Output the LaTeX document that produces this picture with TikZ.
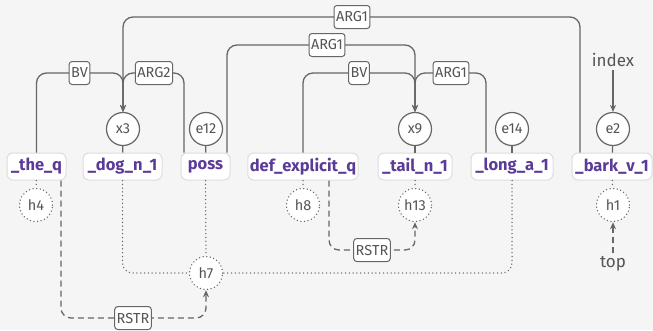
\documentclass[tikz,border=0pt]{standalone}
\usepackage{fontspec}
\setmainfont{Fira Sans}
\usetikzlibrary{arrows.meta}
\definecolor{bgc}{HTML}{F5F5F5}
\definecolor{lnc}{HTML}{666666}
\definecolor{predc}{HTML}{5B3A98}
\definecolor{bxc}{HTML}{DDDDDD}
\definecolor{txc}{HTML}{555555}
\begin{document}
\begin{tikzpicture}[x=1pt,y=-1pt,
  predbox/.style={draw=bxc, line width=1pt, fill=white, rounded corners=6pt, text=predc,
    font=\bfseries\fontsize{16.5}{17}\selectfont, minimum height=27pt, inner xsep=2pt},
  var/.style={circle, draw=lnc, line width=1.2pt, fill=white, minimum size=33pt, inner sep=0pt,
    text=txc, font=\fontsize{14.5}{15}\selectfont},
  hvar/.style={var, line cap=round, dash pattern=on 0pt off 3.6pt, line width=1.5pt},
  lab/.style={draw=lnc, line width=1pt, fill=white, rounded corners=3pt, inner xsep=2pt,
    minimum height=23pt, text=txc, font=\fontsize{14.5}{15}\selectfont},
  free/.style={text=txc, font=\fontsize{17}{18}\selectfont},
  edge/.style={draw=lnc, line width=1.3pt, rounded corners=10pt},
  arr/.style={-{Stealth[length=7pt,width=6pt]}},
  dotl/.style={draw=lnc, line width=1.5pt, line cap=round, dash pattern=on 0pt off 3.8pt, rounded corners=10pt},
  dashl/.style={draw=lnc, line width=1.3pt, dash pattern=on 6pt off 4pt, rounded corners=10pt}
]
\fill[bgc] (0,0) rectangle (653,330);
\useasboundingbox (0,0) rectangle (653,330);

% predicate boxes
\node[predbox, minimum width=59pt] (the) at (36.5,166.5) {\_the\_q};
\node[predbox, minimum width=79pt] (dog) at (122.5,166.5) {\_dog\_n\_1};
\node[predbox, minimum width=49pt] (poss) at (205.5,166.5) {poss};
\node[predbox, minimum width=108pt] (def) at (303,166.5) {def\_explicit\_q};
\node[predbox, minimum width=74pt] (tail) at (415,166.5) {\_tail\_n\_1};
\node[predbox, minimum width=82pt] (long) at (512,166.5) {\_long\_a\_1};
\node[predbox, minimum width=80pt] (bark) at (612,166.5) {\_bark\_v\_1};

% variables
\node[var] (x3) at (123,129) {x3};
\node[var] (e12) at (206,129) {e12};
\node[var] (x9) at (415,129) {x9};
\node[var] (e14) at (512,129) {e14};
\node[var] (e2) at (613,129) {e2};

\node[hvar] (h4) at (36,205) {h4};
\node[hvar] (h8) at (303,205) {h8};
\node[hvar] (h13) at (415,205) {h13};
\node[hvar] (h1) at (613,205) {h1};
\node[hvar] (h7) at (206,273) {h7};

\node[free] (index) at (613,60) {index};
\node[free] (top) at (613,264) {top};

% variable to predicate
\draw[edge] (x3) -- (dog);
\draw[edge] (e12) -- (poss);
\draw[edge] (x9) -- (tail);
\draw[edge] (e14) -- (long);
\draw[edge] (e2) -- (bark);

% argument edges
\draw[edge, arr] ([xshift=-32pt]bark.north) |- (x3 |- 0,17) -- (x3.north);
\draw[edge, arr] ([xshift=21.5pt]poss.north) |- (x9 |- 0,45) -- (x9.north);
\draw[edge, arr] (the.north) |- (x3 |- 0,73) -- (x3.north);
\draw[edge, arr] ([xshift=-21.5pt]poss.north) |- (x3 |- 0,73) -- (x3.north);
\draw[edge, arr] (def.north) |- (x9 |- 0,73) -- (x9.north);
\draw[edge, arr] ([xshift=-26pt]long.north) |- (x9 |- 0,73) -- (x9.north);
\draw[edge, arr] (index) -- (e2);

\node[lab] (l1) at (352,17) {ARG1};
\node[lab] (l2) at (327,45) {ARG1};
\node[lab] (l3) at (79.5,73) {BV};
\node[lab] (l4) at (154,73) {ARG2};
\node[lab] (l5) at (359,73) {BV};
\node[lab] (l6) at (451,73) {ARG1};

% handles
\draw[dotl] (the) -- (h4);
\draw[dotl] (def) -- (h8);
\draw[dotl] (tail) -- (h13);
\draw[dotl] (bark) -- (h1);
\draw[dotl] (dog.south) |- (h7.west);
\draw[dotl] (poss.south) -- (h7.north);
\draw[dotl] (long.south) |- (h7.east);

\draw[dashl, arr] ([xshift=24.5pt]the.south) |- (h7 |- 0,318) -- (h7.south);
\draw[dashl, arr] ([xshift=26pt]def.south) |- (h13 |- 0,250) -- (h13.south);
\draw[dashl, arr] (top) -- (h1);

\node[lab] (l7) at (133,318) {RSTR};
\node[lab] (l8) at (372,250) {RSTR};
\end{tikzpicture}
\end{document}
